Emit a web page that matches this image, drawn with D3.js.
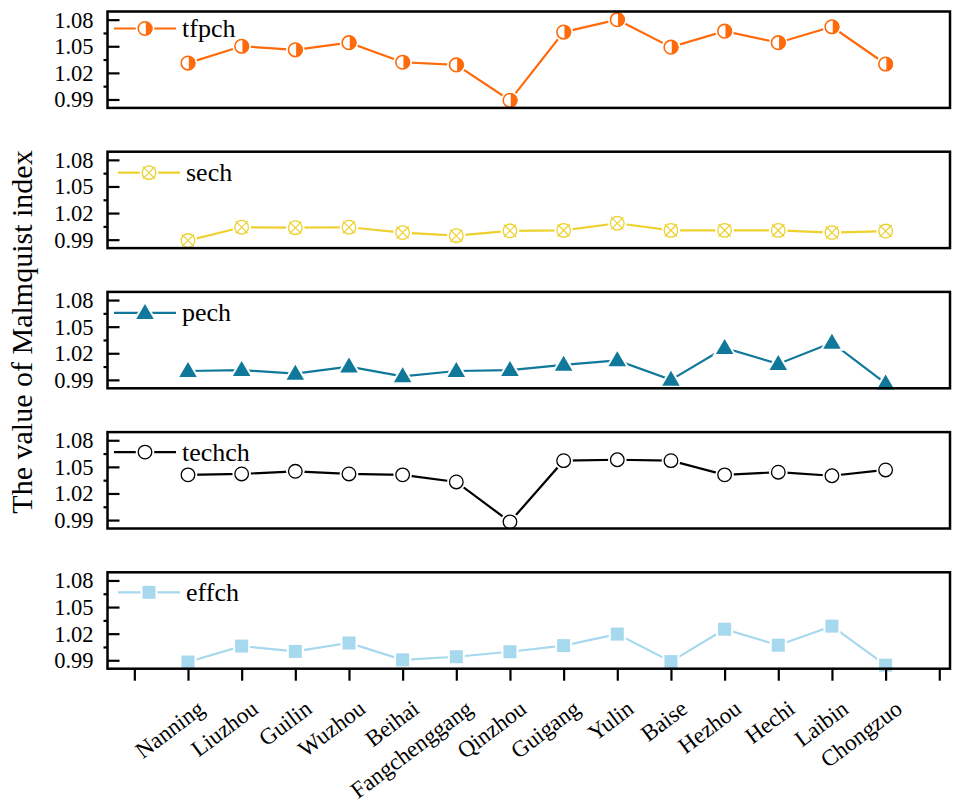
<!DOCTYPE html>
<html>
<head>
<meta charset="utf-8">
<script src="https://cdn.jsdelivr.net/npm/d3@7"></script>
<style>
  html, body { margin: 0; padding: 0; background: #fff; }
  svg { display: block; font-family: "Liberation Serif", "Times New Roman", serif; }
</style>
</head>
<body>
<svg id="chart" width="955" height="802"></svg>
<script>
// Malmquist index decomposition for 14 cities of Guangxi
const cities = ["Nanning", "Liuzhou", "Guilin", "Wuzhou", "Beihai", "Fangchenggang", "Qinzhou",
                "Guigang", "Yulin", "Baise", "Hezhou", "Hechi", "Laibin", "Chongzuo"];

const tfpch  = [1.031, 1.050, 1.046, 1.054, 1.032, 1.029, 0.989, 1.066, 1.080, 1.049, 1.067, 1.054, 1.072, 1.030];
const sech   = [0.989, 1.004, 1.0035, 1.004, 0.998, 0.9945, 1.000, 1.0005, 1.0085, 1.0005, 1.0005, 1.0005, 0.998, 0.9997];
const pech   = [1.000, 1.001, 0.997, 1.005, 0.994, 1.000, 1.001, 1.007, 1.012, 0.990, 1.026, 1.008, 1.032, 0.986];
const techch = [1.041, 1.042, 1.045, 1.042, 1.041, 1.033, 0.988, 1.057, 1.058, 1.057, 1.041, 1.044, 1.040, 1.0465];
const effch  = [0.988, 1.006, 1.000, 1.0095, 0.9905, 0.994, 0.9996, 1.0065, 1.0195, 0.9885, 1.025, 1.007, 1.0285, 0.9845];

const yTicks = [0.99, 1.02, 1.05, 1.08];
const yMinorTicks = [1.005, 1.035, 1.065];
const yTitle = "The value of Malmquist index";

const panels = [
  { name: "tfpch",  values: tfpch,  color: "#FF6A0A", marker: "halfcircle" },
  { name: "sech",   values: sech,   color: "#ECD12F", marker: "crosscircle" },
  { name: "pech",   values: pech,   color: "#10789A", marker: "triangle" },
  { name: "techch", values: techch, color: "#000000", marker: "circle" },
  { name: "effch",  values: effch,  color: "#A6D8EE", marker: "square" }
];

const svg = d3.select("#chart");

// layout
const left = 107.5, right = 950;
const panelTop0 = 11.5, panelStep = 140.2, panelH = 96.4;
const legendDy = [17, 21, 21, 20, 20];
const legendDx = [0, 4, 0, 0, 4];

const x = d3.scaleLinear().domain([-0.5, 15.2]).range([left, right]);

function drawMarker(g, type, color, r) {
  if (type === "halfcircle") {
    g.append("circle").attr("r", r + 2.5).attr("fill", "#fff");
    g.append("circle").attr("r", r).attr("fill", "#fff").attr("stroke", color).attr("stroke-width", 1.6);
    g.append("path").attr("d", `M0.8,${-r} A${r},${r} 0 0 1 0.8,${r} Z`).attr("fill", color);
  } else if (type === "crosscircle") {
    g.append("circle").attr("r", r + 2.5).attr("fill", "#fff");
    g.append("circle").attr("r", r).attr("fill", "#fff").attr("stroke", color).attr("stroke-width", 1.3);
    const k = r * 0.9;
    g.append("path").attr("d", `M${-k},${-k}L${k},${k}M${-k},${k}L${k},${-k}`)
      .attr("stroke", color).attr("stroke-width", 1.2);
  } else if (type === "triangle") {
    const w = 17.5, h = 15;
    const tri = `M0,${-h * 0.6}L${w / 2},${h * 0.4}L${-w / 2},${h * 0.4}Z`;
    g.append("path").attr("d", tri).attr("fill", "#fff").attr("stroke", "#fff").attr("stroke-width", 4);
    g.append("path").attr("d", tri).attr("fill", color);
  } else if (type === "circle") {
    g.append("circle").attr("r", r + 2.5).attr("fill", "#fff");
    g.append("circle").attr("r", r).attr("fill", "#fff").attr("stroke", color).attr("stroke-width", 1.3);
  } else if (type === "square") {
    const s = 13;
    g.append("rect").attr("x", -s / 2 - 2).attr("y", -s / 2 - 2).attr("width", s + 4).attr("height", s + 4).attr("fill", "#fff");
    g.append("rect").attr("x", -s / 2).attr("y", -s / 2).attr("width", s).attr("height", s).attr("fill", color);
  }
}

panels.forEach((p, i) => {
  const top = panelTop0 + i * panelStep;
  const bottom = top + panelH;
  const y = d3.scaleLinear().domain([0.9805, 1.0892]).range([bottom, top]);
  const g = svg.append("g");

  // major ticks point inward, minor ticks outward
  const majorAxis = d3.axisRight(y).tickValues(yTicks).tickSize(12).tickFormat("");
  g.append("g").attr("transform", `translate(${left},0)`).call(majorAxis)
    .call(a => a.select(".domain").remove())
    .call(a => a.selectAll("line").attr("stroke", "#000").attr("stroke-width", 2.2));
  const minorAxis = d3.axisLeft(y).tickValues(yMinorTicks).tickSize(4).tickFormat("");
  g.append("g").attr("transform", `translate(${left},0)`).call(minorAxis)
    .call(a => a.select(".domain").remove())
    .call(a => a.selectAll("line").attr("stroke", "#000").attr("stroke-width", 2.2));

  g.selectAll(".ylab").data(yTicks).join("text")
    .attr("x", left - 14).attr("y", d => y(d)).attr("dy", "0.35em")
    .attr("text-anchor", "end").attr("font-size", 22.5).attr("fill", "#000")
    .text(d => d3.format(".2f")(d));

  // series line
  const pts = p.values.map((v, j) => [x(j + 1), y(v)]);
  g.append("path").attr("d", d3.line()(pts))
    .attr("fill", "none").attr("stroke", p.color).attr("stroke-width", 2.2);

  // markers
  pts.forEach(([px, py]) => {
    drawMarker(g.append("g").attr("transform", `translate(${px},${py})`), p.marker, p.color, 6.8);
  });

  // legend
  const ly = top + legendDy[i];
  const lx = legendDx[i];
  g.append("line").attr("x1", 114 + lx).attr("x2", 176 + lx).attr("y1", ly).attr("y2", ly)
    .attr("stroke", p.color).attr("stroke-width", 2.2);
  drawMarker(g.append("g").attr("transform", `translate(${145 + lx},${ly})`), p.marker, p.color, 6.8);
  g.append("text").attr("x", 182 + lx).attr("y", ly + 8.5)
    .attr("font-size", 26).attr("fill", "#000").text(p.name);

  // frame
  g.append("rect").attr("x", left).attr("y", top).attr("width", right - left).attr("height", panelH)
    .attr("fill", "none").attr("stroke", "#000").attr("stroke-width", 2.5);

  // category axis on the bottom panel only
  if (i === panels.length - 1) {
    const xAxis = d3.axisBottom(x).tickValues(d3.range(0, 16)).tickSize(12).tickFormat("");
    g.append("g").attr("transform", `translate(0,${bottom})`).call(xAxis)
      .call(a => a.select(".domain").remove())
      .call(a => a.selectAll("line").attr("stroke", "#000").attr("stroke-width", 2.2));
    g.selectAll(".xlab").data(cities).join("text")
      .attr("transform", (d, j) => `translate(${x(j + 1) + 18},${bottom + 43}) rotate(-37)`)
      .attr("text-anchor", "end")
      .attr("font-size", 23).attr("fill", "#000")
      .text(d => d);
  }
});

// shared y-axis title
svg.append("text")
  .attr("transform", `translate(32,332) rotate(-90)`)
  .attr("text-anchor", "middle").attr("font-size", 30).attr("fill", "#000")
  .text(yTitle);
</script>
</body>
</html>
